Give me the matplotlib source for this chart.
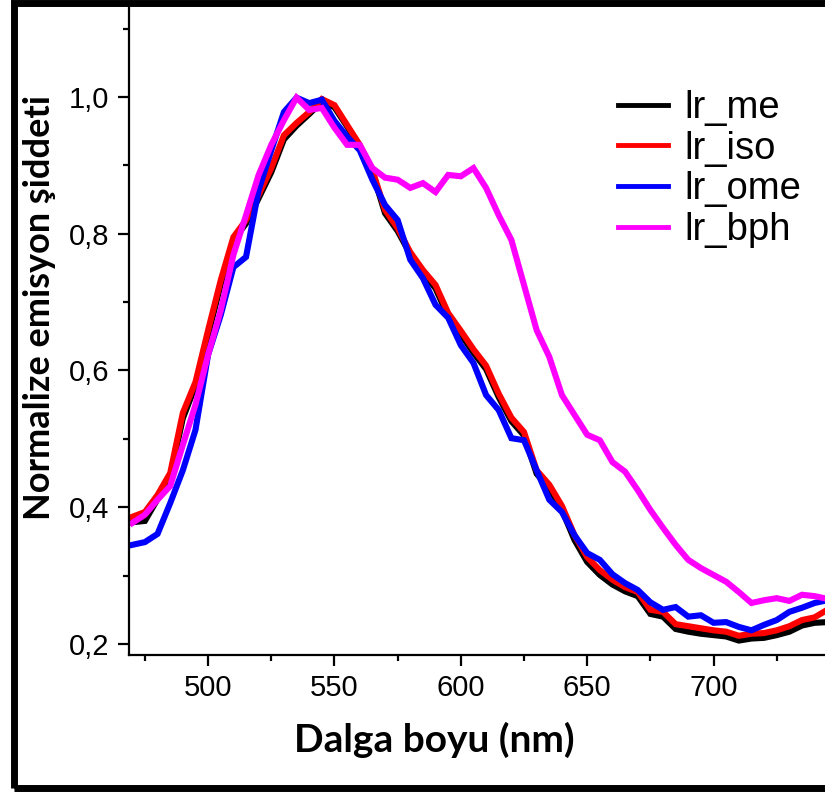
import matplotlib
matplotlib.use("Agg")
import matplotlib.pyplot as plt
from matplotlib.patches import Rectangle
from matplotlib.ticker import MultipleLocator, FuncFormatter

wavelength = list(range(470, 750, 5))

lr_me = [0.378, 0.380, 0.412, 0.445, 0.530, 0.578, 0.652, 0.726, 0.790, 0.815,
         0.852, 0.890, 0.938, 0.958, 0.975, 0.993, 0.985, 0.957, 0.927, 0.890,
         0.830, 0.804, 0.770, 0.743, 0.720, 0.679, 0.653, 0.626, 0.602, 0.561,
         0.526, 0.505, 0.449, 0.428, 0.396, 0.352, 0.320, 0.301, 0.287, 0.277,
         0.270, 0.244, 0.240, 0.222, 0.218, 0.215, 0.213, 0.211, 0.205, 0.208,
         0.209, 0.213, 0.218, 0.227, 0.231, 0.232]

lr_iso = [0.386, 0.393, 0.418, 0.450, 0.538, 0.583, 0.659, 0.732, 0.795, 0.820,
          0.857, 0.896, 0.944, 0.962, 0.978, 0.997, 0.988, 0.959, 0.930, 0.893,
          0.835, 0.808, 0.773, 0.747, 0.725, 0.684, 0.658, 0.631, 0.607, 0.566,
          0.531, 0.510, 0.454, 0.433, 0.402, 0.359, 0.327, 0.308, 0.294, 0.283,
          0.276, 0.250, 0.247, 0.229, 0.226, 0.223, 0.220, 0.218, 0.212, 0.215,
          0.216, 0.220, 0.226, 0.235, 0.239, 0.250]

lr_ome = [0.345, 0.349, 0.361, 0.406, 0.454, 0.513, 0.623, 0.681, 0.751, 0.766,
          0.864, 0.922, 0.978, 0.999, 0.991, 0.996, 0.965, 0.942, 0.922, 0.879,
          0.842, 0.820, 0.762, 0.735, 0.696, 0.677, 0.637, 0.611, 0.564, 0.542,
          0.501, 0.498, 0.454, 0.411, 0.393, 0.359, 0.333, 0.323, 0.302, 0.289,
          0.279, 0.261, 0.250, 0.254, 0.240, 0.242, 0.231, 0.232, 0.225, 0.220,
          0.228, 0.235, 0.247, 0.253, 0.260, 0.264]

lr_bph = [0.377, 0.389, 0.411, 0.431, 0.491, 0.550, 0.623, 0.688, 0.769, 0.827,
          0.886, 0.930, 0.966, 0.999, 0.981, 0.984, 0.955, 0.930, 0.930, 0.896,
          0.882, 0.879, 0.867, 0.874, 0.861, 0.886, 0.884, 0.896, 0.867, 0.827,
          0.791, 0.725, 0.659, 0.620, 0.564, 0.535, 0.506, 0.498, 0.466, 0.452,
          0.425, 0.396, 0.370, 0.345, 0.323, 0.311, 0.301, 0.291, 0.276, 0.260,
          0.264, 0.267, 0.263, 0.272, 0.270, 0.266]

series_names = ["lr_me", "lr_iso", "lr_ome", "lr_bph"]
series_values = [lr_me, lr_iso, lr_ome, lr_bph]
series_colors = ["#000000", "#ff0000", "#0000ff", "#ff00ff"]

x_label = "Dalga boyu (nm)"
y_label = "Normalize emisyon şiddeti"

W, H = 825, 794
fig = plt.figure(figsize=(W / 100, H / 100), dpi=100)
fig.patch.set_facecolor("white")

ax_l, ax_r, ax_b, ax_t = 129, 825, 655, 5
ax = fig.add_axes([ax_l / W, 1 - ax_b / H, (ax_r - ax_l) / W, (ax_b - ax_t) / H])

for name, vals, col in zip(series_names, series_values, series_colors):
    ax.plot(wavelength, vals, color=col, lw=4.4, label=name, solid_joinstyle="miter")

ax.set_xlim(468.7, 744.1)
ax.set_ylim(0.1839, 1.1345)

for s in ["top", "right"]:
    ax.spines[s].set_visible(False)
for s in ["left", "bottom"]:
    ax.spines[s].set_linewidth(1.6)

ax.xaxis.set_major_locator(MultipleLocator(50))
ax.xaxis.set_minor_locator(MultipleLocator(25))
ax.yaxis.set_major_locator(MultipleLocator(0.2))
ax.yaxis.set_minor_locator(MultipleLocator(0.1))
ax.yaxis.set_major_formatter(FuncFormatter(lambda v, p: f"{v:.1f}".replace(".", ",")))
ax.tick_params(which="major", direction="out", length=8, width=1.6,
               labelsize=21, pad=6)
ax.tick_params(which="minor", direction="out", length=4, width=1.6)
for lab in ax.get_xticklabels() + ax.get_yticklabels():
    lab.set_fontfamily("Liberation Sans")

ax.set_xlabel(x_label, fontsize=28, fontweight="bold", family="Lato")
ax.xaxis.set_label_coords((434 - ax_l) / (ax_r - ax_l), (ax_b - 740) / (ax_b - ax_t))
ax.xaxis.label.set_va("center")
ax.set_ylabel(y_label, fontsize=26, fontweight="bold", family="Lato")
ax.yaxis.set_label_coords((40 - ax_l) / (ax_r - ax_l), (ax_b - 308) / (ax_b - ax_t))
ax.yaxis.label.set_va("center")

leg = ax.legend(loc="upper left", bbox_to_anchor=(603 / W, 1 - 75 / H),
                bbox_transform=fig.transFigure, frameon=False,
                prop={"family": "Liberation Sans", "size": 27.5},
                handlelength=1.3, handletextpad=0.42, labelspacing=0.12,
                borderaxespad=0)
for h in leg.get_lines():
    h.set_linewidth(3.5)

border = Rectangle((13.5 / W, 1 - 788 / H), (900 - 13.5) / W, (788 - 2.5) / H,
                   transform=fig.transFigure, fill=False, lw=5, ec="black",
                   clip_on=False)
fig.patches.append(border)

fig.savefig("out.png", dpi=100)
